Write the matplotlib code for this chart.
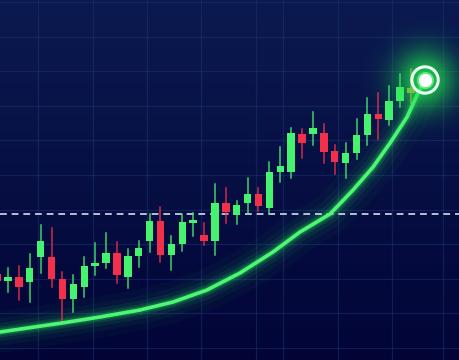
import numpy as np
import matplotlib.pyplot as plt
from matplotlib.colors import to_rgb

# candle data (price units), index -1 is the half-hidden candle at the left edge
candle_idx = list(range(-1, 38))
opens = [86, 79, 83, 78, 103, 103, 81, 61, 73, 94, 97, 107, 83, 104, 119, 139, 105, 116, 137, 125,
         119, 157, 145, 157, 166, 152, 188, 188, 226, 226, 227, 209, 197, 207, 225, 246, 240, 259, 272]
closes = [79, 83, 73, 92, 119, 81, 61, 76, 94, 97, 107, 85, 104, 112, 139, 105, 116, 138, 140, 119,
          157, 148, 155, 166, 154, 188, 194, 227, 217, 232, 208, 198, 207, 225, 246, 241, 259, 273, 267]
highs = [90, 92, 94, 106, 135, 132, 88, 85, 103, 117, 127, 118, 111, 119, 146, 153, 124, 146, 147, 137,
         176, 172, 159, 182, 172, 198, 213, 232, 231, 248, 236, 215, 217, 241, 262, 267, 274, 286, 291]
lows = [74, 68, 60, 58, 87, 73, 37, 48, 63, 85, 92, 77, 72, 93, 108, 98, 90, 109, 124, 115,
        105, 137, 136, 147, 149, 147, 178, 182, 202, 215, 197, 186, 182, 201, 215, 221, 235, 253, 257]

# trend curve
curve_x = [-0.73, 4.96, 8.45, 12.12, 15.15, 18.27, 21.30, 24.33, 26.81, 29.57,
           31.68, 33.52, 35.08, 36.64, 37.65, 38.29]
curve_y = [28, 37, 43, 50, 58, 70, 87, 108, 128, 146, 170, 193, 217, 243, 267, 280]

level = 146  # dashed reference line

green = '#45f36f'
red = '#f3304a'
orange = '#f0952e'
glow = '#2cff5c'

fig = plt.figure(figsize=(4.59, 3.6), dpi=100)
ax = fig.add_axes([0, 0, 1, 1])
xmin, xmax = -0.735, 41.41
ax.set_xlim(xmin, xmax)
ax.set_ylim(0, 360)

# background gradient
top = np.array(to_rgb('#0b1a50'))
bot = np.array(to_rgb('#020436'))
t = np.linspace(0, 1, 256)[:, None]
bg = (top * (1 - t) + bot * t)[:, None, :].repeat(2, axis=1)
ax.imshow(bg, extent=[xmin, xmax, 0, 360], aspect='auto', zorder=0)

# grid
ax.set_xticks([2.75, 7.81, 12.76, 17.72, 22.77, 25.25, 30.30, 35.26, 39.94])
ax.set_yticks(np.arange(12, 360, 34.6))
ax.grid(True, color='#1b3a78', linewidth=0.9, alpha=0.45, zorder=1)
ax.tick_params(length=0, labelbottom=False, labelleft=False)
for s in ax.spines.values():
    s.set_visible(False)

# glow around the curve
for lw, a in [(30, 0.03), (20, 0.045), (13, 0.07), (8, 0.12), (5, 0.2)]:
    ax.plot(curve_x, curve_y, color=glow, lw=lw, alpha=a, solid_capstyle='round',
            solid_joinstyle='round', zorder=2)

# dashed level line
ax.axhline(level, color='#c9d2e4', lw=1.4, dashes=(3.5, 2.5), alpha=0.9, zorder=3)

# candles
w = 0.68
for i, o, c, h, l in zip(candle_idx, opens, closes, highs, lows):
    if i == 37:
        col = orange
    else:
        col = green if c >= o else red
    ax.plot([i, i], [l, h], color=col, lw=1.1, alpha=0.85, zorder=4)
    ax.bar(i, abs(c - o), bottom=min(o, c), width=w, color=col, zorder=5, linewidth=0)

# main curve
ax.plot(curve_x, curve_y, color='#4cf872', lw=2.6, solid_capstyle='round',
        solid_joinstyle='round', zorder=6)

# glow around the end marker
mx, my = curve_x[-1], curve_y[-1]
gx = np.linspace(-90, 90, 200)
GX, GY = np.meshgrid(gx, gx)
r = np.sqrt(GX ** 2 + GY ** 2)
img = np.zeros((200, 200, 4))
img[..., :3] = to_rgb('#1fe04f')
img[..., 3] = np.clip(0.85 * np.exp(-(r / 30) ** 2), 0, 1)
px_per_x = 459 / (xmax - xmin)
ax.imshow(img, extent=[mx - 90 / px_per_x, mx + 90 / px_per_x, my - 90, my + 90],
          aspect='auto', zorder=7, interpolation='bilinear')

ax.scatter([mx], [my], s=360, facecolor='none', edgecolor='#eafff0', linewidth=2.2, zorder=8)
ax.scatter([mx], [my], s=150, color='#9dffb4', alpha=0.6, linewidth=0, zorder=8)
ax.scatter([mx], [my], s=90, color='white', linewidth=0, zorder=9)

ax.set_xlim(xmin, xmax)
ax.set_ylim(0, 360)
fig.savefig('out.png', dpi=100)
